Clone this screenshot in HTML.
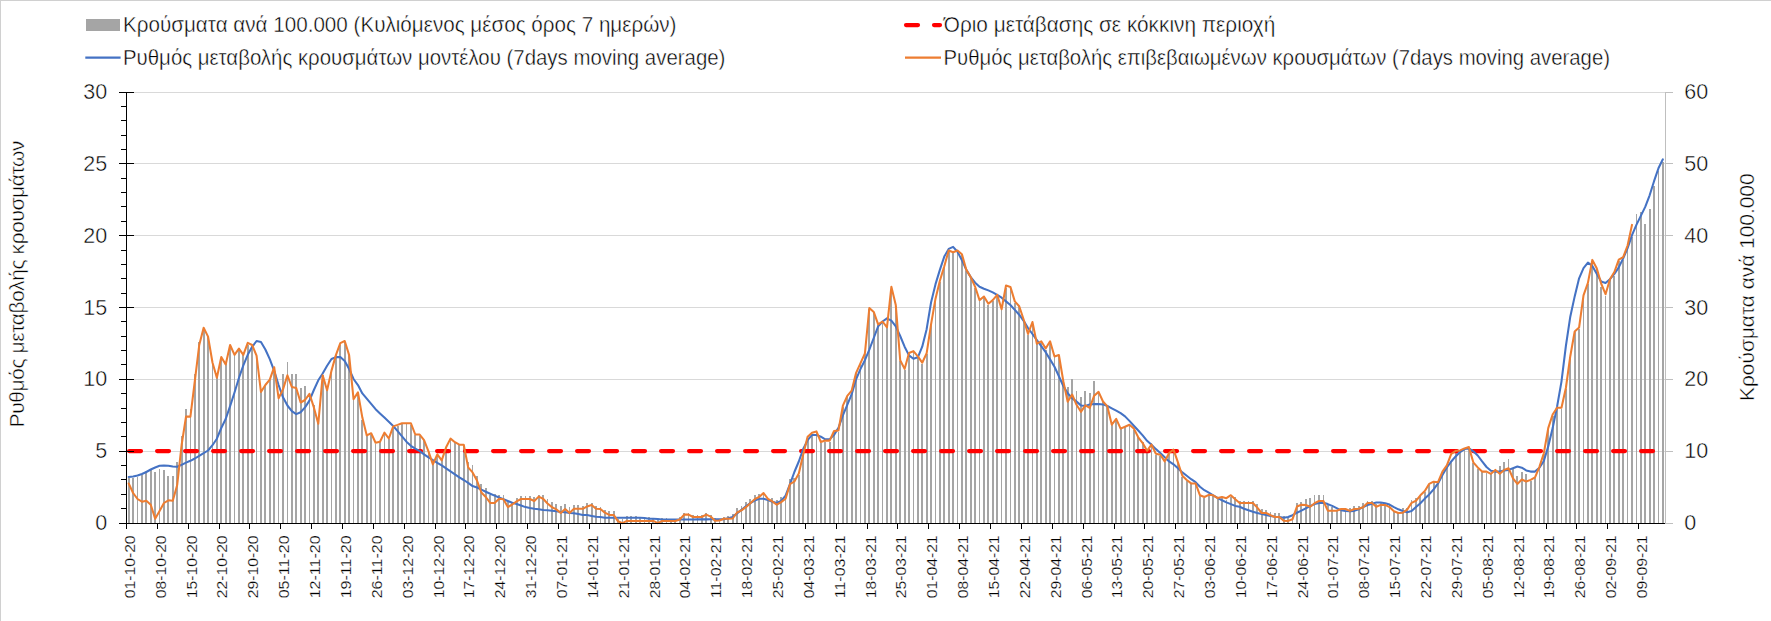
<!DOCTYPE html>
<html><head><meta charset="utf-8"><style>
html,body{margin:0;padding:0;background:#fff;}
body{width:1771px;height:621px;overflow:hidden;position:relative;}
.frame{position:absolute;left:0;top:0;width:1771px;height:621px;box-sizing:border-box;border-top:1px solid #d0d0d0;border-left:1px solid #d0d0d0;}
svg{position:absolute;left:0;top:0;}
text{font-family:"Liberation Sans", sans-serif;fill:#000;stroke:#fff;stroke-width:0.45px;paint-order:fill stroke;}
</style></head><body>
<div class="frame"></div>
<svg width="1771" height="621" viewBox="0 0 1771 621">
<rect x="127" y="451" width="1538" height="1" fill="#d9d9d9"/>
<rect x="127" y="379" width="1538" height="1" fill="#d9d9d9"/>
<rect x="127" y="307" width="1538" height="1" fill="#d9d9d9"/>
<rect x="127" y="235" width="1538" height="1" fill="#d9d9d9"/>
<rect x="127" y="163" width="1538" height="1" fill="#d9d9d9"/>
<rect x="127" y="92" width="1538" height="1" fill="#d9d9d9"/>
<path d="M127.80 477.5h1.8V523h-1.8Z M132.21 478.0h1.8V523h-1.8Z M136.62 476.5h1.8V523h-1.8Z M141.03 475.0h1.8V523h-1.8Z M145.44 471.0h1.8V523h-1.8Z M149.85 469.5h1.8V523h-1.8Z M154.26 472.0h1.8V523h-1.8Z M158.66 469.4h1.8V523h-1.8Z M163.07 470.0h1.8V523h-1.8Z M167.48 476.0h1.8V523h-1.8Z M171.89 476.0h1.8V523h-1.8Z M176.30 462.0h1.8V523h-1.8Z M180.71 436.3h1.8V523h-1.8Z M185.11 409.0h1.8V523h-1.8Z M189.52 409.0h1.8V523h-1.8Z M193.93 374.0h1.8V523h-1.8Z M198.34 342.0h1.8V523h-1.8Z M202.75 331.0h1.8V523h-1.8Z M207.16 336.6h1.8V523h-1.8Z M211.57 360.0h1.8V523h-1.8Z M215.97 375.2h1.8V523h-1.8Z M220.38 358.0h1.8V523h-1.8Z M224.79 363.0h1.8V523h-1.8Z M229.20 347.0h1.8V523h-1.8Z M233.61 354.0h1.8V523h-1.8Z M238.02 350.6h1.8V523h-1.8Z M242.43 354.0h1.8V523h-1.8Z M246.83 345.0h1.8V523h-1.8Z M251.24 345.6h1.8V523h-1.8Z M255.65 356.0h1.8V523h-1.8Z M260.06 391.0h1.8V523h-1.8Z M264.47 386.0h1.8V523h-1.8Z M268.88 380.0h1.8V523h-1.8Z M273.28 371.0h1.8V523h-1.8Z M277.69 395.0h1.8V523h-1.8Z M282.10 373.8h1.8V523h-1.8Z M286.51 362.0h1.8V523h-1.8Z M290.92 374.1h1.8V523h-1.8Z M295.33 374.1h1.8V523h-1.8Z M299.74 388.0h1.8V523h-1.8Z M304.14 386.0h1.8V523h-1.8Z M308.55 393.8h1.8V523h-1.8Z M312.96 405.0h1.8V523h-1.8Z M317.37 422.8h1.8V523h-1.8Z M321.78 375.4h1.8V523h-1.8Z M326.19 390.0h1.8V523h-1.8Z M330.60 370.6h1.8V523h-1.8Z M335.00 355.0h1.8V523h-1.8Z M339.41 344.5h1.8V523h-1.8Z M343.82 341.6h1.8V523h-1.8Z M348.23 355.0h1.8V523h-1.8Z M352.64 400.0h1.8V523h-1.8Z M357.05 393.4h1.8V523h-1.8Z M361.45 419.6h1.8V523h-1.8Z M365.86 436.4h1.8V523h-1.8Z M370.27 435.4h1.8V523h-1.8Z M374.68 443.7h1.8V523h-1.8Z M379.09 440.6h1.8V523h-1.8Z M383.50 432.2h1.8V523h-1.8Z M387.91 438.5h1.8V523h-1.8Z M392.31 427.0h1.8V523h-1.8Z M396.72 426.0h1.8V523h-1.8Z M401.13 423.8h1.8V523h-1.8Z M405.54 423.8h1.8V523h-1.8Z M409.95 425.0h1.8V523h-1.8Z M414.36 435.2h1.8V523h-1.8Z M418.77 435.6h1.8V523h-1.8Z M423.17 440.2h1.8V523h-1.8Z M427.58 450.3h1.8V523h-1.8Z M431.99 460.4h1.8V523h-1.8Z M436.40 455.3h1.8V523h-1.8Z M440.81 458.3h1.8V523h-1.8Z M445.22 451.3h1.8V523h-1.8Z M449.62 440.2h1.8V523h-1.8Z M454.03 443.3h1.8V523h-1.8Z M458.44 445.3h1.8V523h-1.8Z M462.85 445.3h1.8V523h-1.8Z M467.26 462.4h1.8V523h-1.8Z M471.67 464.8h1.8V523h-1.8Z M476.08 476.4h1.8V523h-1.8Z M480.48 484.0h1.8V523h-1.8Z M484.89 488.1h1.8V523h-1.8Z M489.30 494.6h1.8V523h-1.8Z M493.71 494.0h1.8V523h-1.8Z M498.12 495.1h1.8V523h-1.8Z M502.53 495.1h1.8V523h-1.8Z M506.94 501.9h1.8V523h-1.8Z M511.34 503.0h1.8V523h-1.8Z M515.75 498.2h1.8V523h-1.8Z M520.16 496.1h1.8V523h-1.8Z M524.57 496.1h1.8V523h-1.8Z M528.98 496.1h1.8V523h-1.8Z M533.39 497.2h1.8V523h-1.8Z M537.79 495.4h1.8V523h-1.8Z M542.20 495.1h1.8V523h-1.8Z M546.61 499.3h1.8V523h-1.8Z M551.02 501.9h1.8V523h-1.8Z M555.43 504.0h1.8V523h-1.8Z M559.84 506.1h1.8V523h-1.8Z M564.25 504.1h1.8V523h-1.8Z M568.65 507.0h1.8V523h-1.8Z M573.06 505.0h1.8V523h-1.8Z M577.47 505.0h1.8V523h-1.8Z M581.88 506.1h1.8V523h-1.8Z M586.29 503.0h1.8V523h-1.8Z M590.70 503.0h1.8V523h-1.8Z M595.11 506.0h1.8V523h-1.8Z M599.51 507.2h1.8V523h-1.8Z M603.92 510.1h1.8V523h-1.8Z M608.33 511.0h1.8V523h-1.8Z M612.74 511.0h1.8V523h-1.8Z M617.15 519.0h1.8V523h-1.8Z M621.56 519.0h1.8V523h-1.8Z M625.96 515.9h1.8V523h-1.8Z M630.37 516.2h1.8V523h-1.8Z M634.78 515.9h1.8V523h-1.8Z M639.19 518.0h1.8V523h-1.8Z M643.60 518.0h1.8V523h-1.8Z M648.01 517.3h1.8V523h-1.8Z M652.42 519.0h1.8V523h-1.8Z M656.82 519.5h1.8V523h-1.8Z M661.23 518.3h1.8V523h-1.8Z M665.64 518.0h1.8V523h-1.8Z M670.05 519.0h1.8V523h-1.8Z M674.46 519.0h1.8V523h-1.8Z M678.87 517.3h1.8V523h-1.8Z M683.28 513.3h1.8V523h-1.8Z M687.68 513.3h1.8V523h-1.8Z M692.09 515.1h1.8V523h-1.8Z M696.50 515.1h1.8V523h-1.8Z M700.91 515.1h1.8V523h-1.8Z M705.32 513.3h1.8V523h-1.8Z M709.73 515.1h1.8V523h-1.8Z M714.13 518.0h1.8V523h-1.8Z M718.54 519.0h1.8V523h-1.8Z M722.95 517.4h1.8V523h-1.8Z M727.36 516.2h1.8V523h-1.8Z M731.77 514.3h1.8V523h-1.8Z M736.18 508.1h1.8V523h-1.8Z M740.59 506.3h1.8V523h-1.8Z M744.99 502.3h1.8V523h-1.8Z M749.40 499.2h1.8V523h-1.8Z M753.81 495.2h1.8V523h-1.8Z M758.22 494.1h1.8V523h-1.8Z M762.63 494.4h1.8V523h-1.8Z M767.04 499.2h1.8V523h-1.8Z M771.45 498.2h1.8V523h-1.8Z M775.85 500.1h1.8V523h-1.8Z M780.26 497.0h1.8V523h-1.8Z M784.67 499.2h1.8V523h-1.8Z M789.08 478.9h1.8V523h-1.8Z M793.49 477.5h1.8V523h-1.8Z M797.90 474.5h1.8V523h-1.8Z M802.30 455.4h1.8V523h-1.8Z M806.71 437.7h1.8V523h-1.8Z M811.12 433.8h1.8V523h-1.8Z M815.53 432.4h1.8V523h-1.8Z M819.94 443.0h1.8V523h-1.8Z M824.35 441.6h1.8V523h-1.8Z M828.76 441.6h1.8V523h-1.8Z M833.16 432.0h1.8V523h-1.8Z M837.57 431.5h1.8V523h-1.8Z M841.98 406.7h1.8V523h-1.8Z M846.39 396.9h1.8V523h-1.8Z M850.80 391.6h1.8V523h-1.8Z M855.21 373.8h1.8V523h-1.8Z M859.62 364.1h1.8V523h-1.8Z M864.02 354.4h1.8V523h-1.8Z M868.43 309.0h1.8V523h-1.8Z M872.84 312.9h1.8V523h-1.8Z M877.25 325.4h1.8V523h-1.8Z M881.66 322.5h1.8V523h-1.8Z M886.07 328.3h1.8V523h-1.8Z M890.47 290.6h1.8V523h-1.8Z M894.88 306.1h1.8V523h-1.8Z M899.29 361.2h1.8V523h-1.8Z M903.70 369.9h1.8V523h-1.8Z M908.11 354.0h1.8V523h-1.8Z M912.52 352.1h1.8V523h-1.8Z M916.93 357.3h1.8V523h-1.8Z M921.33 363.7h1.8V523h-1.8Z M925.74 354.3h1.8V523h-1.8Z M930.15 325.3h1.8V523h-1.8Z M934.56 299.9h1.8V523h-1.8Z M938.97 281.8h1.8V523h-1.8Z M943.38 267.3h1.8V523h-1.8Z M947.79 251.5h1.8V523h-1.8Z M952.19 253.2h1.8V523h-1.8Z M956.60 251.5h1.8V523h-1.8Z M961.01 255.2h1.8V523h-1.8Z M965.42 270.9h1.8V523h-1.8Z M969.83 278.1h1.8V523h-1.8Z M974.24 287.8h1.8V523h-1.8Z M978.64 301.1h1.8V523h-1.8Z M983.05 297.5h1.8V523h-1.8Z M987.46 304.7h1.8V523h-1.8Z M991.87 301.1h1.8V523h-1.8Z M996.28 295.8h1.8V523h-1.8Z M1000.69 310.2h1.8V523h-1.8Z M1005.10 288.0h1.8V523h-1.8Z M1009.50 287.0h1.8V523h-1.8Z M1013.91 302.6h1.8V523h-1.8Z M1018.32 306.3h1.8V523h-1.8Z M1022.73 320.8h1.8V523h-1.8Z M1027.14 335.3h1.8V523h-1.8Z M1031.55 323.2h1.8V523h-1.8Z M1035.96 342.5h1.8V523h-1.8Z M1040.36 342.5h1.8V523h-1.8Z M1044.77 349.8h1.8V523h-1.8Z M1049.18 342.5h1.8V523h-1.8Z M1053.59 357.0h1.8V523h-1.8Z M1058.00 355.8h1.8V523h-1.8Z M1062.41 381.2h1.8V523h-1.8Z M1066.81 387.2h1.8V523h-1.8Z M1071.22 379.2h1.8V523h-1.8Z M1075.63 390.9h1.8V523h-1.8Z M1080.04 396.7h1.8V523h-1.8Z M1084.45 390.9h1.8V523h-1.8Z M1088.86 392.9h1.8V523h-1.8Z M1093.27 380.9h1.8V523h-1.8Z M1097.67 392.0h1.8V523h-1.8Z M1102.08 401.5h1.8V523h-1.8Z M1106.49 406.4h1.8V523h-1.8Z M1110.90 423.8h1.8V523h-1.8Z M1115.31 419.9h1.8V523h-1.8Z M1119.72 427.6h1.8V523h-1.8Z M1124.13 426.7h1.8V523h-1.8Z M1128.53 425.7h1.8V523h-1.8Z M1132.94 429.6h1.8V523h-1.8Z M1137.35 437.3h1.8V523h-1.8Z M1141.76 442.1h1.8V523h-1.8Z M1146.17 448.9h1.8V523h-1.8Z M1150.58 443.0h1.8V523h-1.8Z M1154.98 454.8h1.8V523h-1.8Z M1159.39 455.7h1.8V523h-1.8Z M1163.80 462.4h1.8V523h-1.8Z M1168.21 454.0h1.8V523h-1.8Z M1172.62 450.6h1.8V523h-1.8Z M1177.03 463.3h1.8V523h-1.8Z M1181.44 476.8h1.8V523h-1.8Z M1185.84 481.0h1.8V523h-1.8Z M1190.25 484.4h1.8V523h-1.8Z M1194.66 484.4h1.8V523h-1.8Z M1199.07 496.3h1.8V523h-1.8Z M1203.48 498.0h1.8V523h-1.8Z M1207.89 495.8h1.8V523h-1.8Z M1212.30 496.3h1.8V523h-1.8Z M1216.70 499.1h1.8V523h-1.8Z M1221.11 498.0h1.8V523h-1.8Z M1225.52 500.0h1.8V523h-1.8Z M1229.93 496.6h1.8V523h-1.8Z M1234.34 497.0h1.8V523h-1.8Z M1238.75 501.2h1.8V523h-1.8Z M1243.15 501.0h1.8V523h-1.8Z M1247.56 501.0h1.8V523h-1.8Z M1251.97 501.0h1.8V523h-1.8Z M1256.38 504.1h1.8V523h-1.8Z M1260.79 509.0h1.8V523h-1.8Z M1265.20 510.0h1.8V523h-1.8Z M1269.61 512.1h1.8V523h-1.8Z M1274.01 513.0h1.8V523h-1.8Z M1278.42 513.0h1.8V523h-1.8Z M1282.83 516.1h1.8V523h-1.8Z M1287.24 517.8h1.8V523h-1.8Z M1291.65 517.0h1.8V523h-1.8Z M1296.06 503.0h1.8V523h-1.8Z M1300.47 502.2h1.8V523h-1.8Z M1304.87 499.1h1.8V523h-1.8Z M1309.28 498.2h1.8V523h-1.8Z M1313.69 495.2h1.8V523h-1.8Z M1318.10 495.2h1.8V523h-1.8Z M1322.51 495.2h1.8V523h-1.8Z M1326.92 504.5h1.8V523h-1.8Z M1331.32 507.2h1.8V523h-1.8Z M1335.73 509.9h1.8V523h-1.8Z M1340.14 509.9h1.8V523h-1.8Z M1344.55 510.5h1.8V523h-1.8Z M1348.96 508.1h1.8V523h-1.8Z M1353.37 506.1h1.8V523h-1.8Z M1357.78 506.1h1.8V523h-1.8Z M1362.18 503.0h1.8V523h-1.8Z M1366.59 501.4h1.8V523h-1.8Z M1371.00 501.2h1.8V523h-1.8Z M1375.41 503.7h1.8V523h-1.8Z M1379.82 502.9h1.8V523h-1.8Z M1384.23 502.5h1.8V523h-1.8Z M1388.64 503.7h1.8V523h-1.8Z M1393.04 511.3h1.8V523h-1.8Z M1397.45 512.0h1.8V523h-1.8Z M1401.86 508.0h1.8V523h-1.8Z M1406.27 508.0h1.8V523h-1.8Z M1410.68 500.3h1.8V523h-1.8Z M1415.09 498.1h1.8V523h-1.8Z M1419.49 496.0h1.8V523h-1.8Z M1423.90 491.5h1.8V523h-1.8Z M1428.31 485.1h1.8V523h-1.8Z M1432.72 483.4h1.8V523h-1.8Z M1437.13 482.5h1.8V523h-1.8Z M1441.54 472.5h1.8V523h-1.8Z M1445.95 466.0h1.8V523h-1.8Z M1450.35 460.6h1.8V523h-1.8Z M1454.76 453.0h1.8V523h-1.8Z M1459.17 450.4h1.8V523h-1.8Z M1463.58 448.8h1.8V523h-1.8Z M1467.99 447.9h1.8V523h-1.8Z M1472.40 463.1h1.8V523h-1.8Z M1476.81 469.0h1.8V523h-1.8Z M1481.21 471.6h1.8V523h-1.8Z M1485.62 472.8h1.8V523h-1.8Z M1490.03 473.8h1.8V523h-1.8Z M1494.44 469.9h1.8V523h-1.8Z M1498.85 466.0h1.8V523h-1.8Z M1503.26 461.9h1.8V523h-1.8Z M1507.66 459.2h1.8V523h-1.8Z M1512.07 469.0h1.8V523h-1.8Z M1516.48 475.8h1.8V523h-1.8Z M1520.89 472.1h1.8V523h-1.8Z M1525.30 474.3h1.8V523h-1.8Z M1529.71 480.9h1.8V523h-1.8Z M1534.12 478.4h1.8V523h-1.8Z M1538.52 467.8h1.8V523h-1.8Z M1542.93 454.2h1.8V523h-1.8Z M1547.34 429.1h1.8V523h-1.8Z M1551.75 415.5h1.8V523h-1.8Z M1556.16 408.7h1.8V523h-1.8Z M1560.57 408.7h1.8V523h-1.8Z M1564.98 389.0h1.8V523h-1.8Z M1569.38 357.2h1.8V523h-1.8Z M1573.79 332.4h1.8V523h-1.8Z M1578.20 328.5h1.8V523h-1.8Z M1582.61 296.3h1.8V523h-1.8Z M1587.02 283.9h1.8V523h-1.8Z M1591.43 260.9h1.8V523h-1.8Z M1595.83 269.2h1.8V523h-1.8Z M1600.24 286.7h1.8V523h-1.8Z M1604.65 295.7h1.8V523h-1.8Z M1609.06 280.2h1.8V523h-1.8Z M1613.47 276.4h1.8V523h-1.8Z M1617.88 261.0h1.8V523h-1.8Z M1622.29 259.7h1.8V523h-1.8Z M1626.69 248.1h1.8V523h-1.8Z M1631.10 236.5h1.8V523h-1.8Z M1635.51 214.1h1.8V523h-1.8Z M1639.92 212.1h1.8V523h-1.8Z M1644.33 223.6h1.8V523h-1.8Z M1648.74 209.0h1.8V523h-1.8Z M1653.15 186.3h1.8V523h-1.8Z M1657.55 170.9h1.8V523h-1.8Z M1661.96 161.9h1.8V523h-1.8Z" fill="#a5a5a5" shape-rendering="crispEdges"/>
<line x1="129.1" y1="451.07" x2="1663" y2="451.07" stroke="#ff0000" stroke-width="4.2" stroke-linecap="round" stroke-dasharray="11.9 16.1" stroke-dashoffset="0"/>
<polyline points="128.70,477.00 133.11,476.50 137.52,475.50 141.93,474.00 146.34,472.00 150.75,469.50 155.16,467.50 159.56,465.80 163.97,465.50 168.38,465.70 172.79,466.50 177.20,466.70 181.61,464.80 186.01,462.60 190.42,460.80 194.83,458.50 199.24,455.80 203.65,453.20 208.06,450.50 212.47,445.20 216.87,438.70 221.28,428.00 225.69,419.00 230.10,406.20 234.51,392.50 238.92,378.00 243.33,365.40 247.73,354.80 252.14,346.80 256.55,341.00 260.96,342.00 265.37,349.50 269.78,359.20 274.18,370.80 278.59,385.00 283.00,397.30 287.41,405.50 291.82,411.20 296.23,414.10 300.64,412.20 305.04,407.40 309.45,400.60 313.86,390.00 318.27,380.30 322.68,373.50 327.09,365.80 331.50,359.00 335.90,357.10 340.31,357.10 344.72,361.00 349.13,369.00 353.54,379.00 357.95,385.10 362.35,393.40 366.76,398.70 371.17,403.90 375.58,409.20 379.99,413.40 384.40,417.60 388.81,421.70 393.21,426.00 397.62,431.20 402.03,436.40 406.44,441.70 410.85,445.80 415.26,448.60 419.67,451.20 424.07,454.30 428.48,457.30 432.89,460.00 437.30,462.80 441.71,465.40 446.12,468.40 450.52,471.40 454.93,474.40 459.34,477.40 463.75,480.00 468.16,482.90 472.57,486.10 476.98,487.50 481.38,489.60 485.79,491.70 490.20,493.70 494.61,495.60 499.02,497.50 503.43,499.30 507.84,501.00 512.24,502.70 516.65,504.00 521.06,505.50 525.47,507.10 529.88,508.00 534.29,508.70 538.69,509.20 543.10,510.00 547.51,510.30 551.92,510.80 556.33,511.30 560.74,511.90 565.15,512.20 569.55,513.00 573.96,513.20 578.37,514.10 582.78,514.90 587.19,515.10 591.60,515.90 596.01,516.80 600.41,517.10 604.82,517.70 609.23,517.70 613.64,517.70 618.05,517.70 622.46,517.70 626.86,517.70 631.27,517.70 635.68,517.70 640.09,517.70 644.50,518.00 648.91,518.80 653.32,518.80 657.72,519.10 662.13,519.50 666.54,519.49 670.95,519.47 675.36,519.46 679.77,519.44 684.18,519.43 688.58,519.41 692.99,519.40 697.40,519.39 701.81,519.37 706.22,519.36 710.63,519.34 715.03,519.33 719.44,519.31 723.85,519.30 728.26,518.30 732.67,516.90 737.08,513.40 741.49,509.90 745.89,506.30 750.30,503.20 754.71,500.60 759.12,498.80 763.53,498.80 767.94,500.10 772.35,501.70 776.75,503.00 781.16,500.80 785.57,495.70 789.98,484.20 794.39,472.00 798.80,461.50 803.20,449.00 807.61,440.20 812.02,434.90 816.43,434.90 820.84,436.70 825.25,439.30 829.66,439.30 834.06,434.90 838.47,427.80 842.88,415.40 847.29,404.80 851.70,394.10 856.11,379.30 860.52,368.90 864.92,360.20 869.33,349.60 873.74,338.00 878.15,326.40 882.56,321.50 886.97,318.30 891.37,320.60 895.78,326.40 900.19,336.00 904.60,346.70 909.01,355.40 913.42,358.80 917.83,357.30 922.23,346.70 926.64,329.20 931.05,302.50 935.46,284.40 939.87,269.90 944.28,256.60 948.69,248.90 953.09,246.90 957.50,251.80 961.91,260.20 966.32,269.90 970.73,277.10 975.14,282.70 979.54,286.80 983.95,288.70 988.36,290.40 992.77,292.40 997.18,294.80 1001.59,297.70 1006.00,301.40 1010.40,305.00 1014.81,309.90 1019.22,314.70 1023.63,320.80 1028.04,328.00 1032.45,334.00 1036.86,340.10 1041.26,346.10 1045.67,352.20 1050.08,359.40 1054.49,366.70 1058.90,376.30 1063.31,386.00 1067.71,393.30 1072.12,398.10 1076.53,401.60 1080.94,405.40 1085.35,406.00 1089.76,404.40 1094.17,404.10 1098.57,404.10 1102.98,404.40 1107.39,406.00 1111.80,408.30 1116.21,410.60 1120.62,413.10 1125.03,416.40 1129.43,420.90 1133.84,425.70 1138.25,430.50 1142.66,435.40 1147.07,440.80 1151.48,444.70 1155.88,449.10 1160.29,453.00 1164.70,457.20 1169.11,461.40 1173.52,464.30 1177.93,468.20 1182.34,472.40 1186.74,475.80 1191.15,479.20 1195.56,482.20 1199.97,486.80 1204.38,490.20 1208.79,492.70 1213.20,495.30 1217.60,497.80 1222.01,500.30 1226.42,502.40 1230.83,504.10 1235.24,505.90 1239.65,506.80 1244.05,508.80 1248.46,510.30 1252.87,511.80 1257.28,513.10 1261.69,514.10 1266.10,515.00 1270.51,515.90 1274.91,516.80 1279.32,517.00 1283.73,517.80 1288.14,517.00 1292.55,515.20 1296.96,512.70 1301.37,510.60 1305.77,508.30 1310.18,506.10 1314.59,504.10 1319.00,503.00 1323.41,502.80 1327.82,504.10 1332.22,505.90 1336.63,508.10 1341.04,510.30 1345.45,510.90 1349.86,511.20 1354.27,510.90 1358.68,509.40 1363.08,507.20 1367.49,505.00 1371.90,503.70 1376.31,502.60 1380.72,502.50 1385.13,503.20 1389.54,504.60 1393.94,507.10 1398.35,509.30 1402.76,511.00 1407.17,512.20 1411.58,511.00 1415.99,507.10 1420.39,503.20 1424.80,498.60 1429.21,494.40 1433.62,489.30 1438.03,483.40 1442.44,475.00 1446.85,467.40 1451.25,461.50 1455.66,456.40 1460.07,452.10 1464.48,449.10 1468.89,448.40 1473.30,451.30 1477.71,455.50 1482.11,461.40 1486.52,467.00 1490.93,470.70 1495.34,471.60 1499.75,471.60 1504.16,470.40 1508.56,469.90 1512.97,468.20 1517.38,466.50 1521.79,467.70 1526.20,470.40 1530.61,471.60 1535.02,471.60 1539.42,467.70 1543.83,461.00 1548.24,446.40 1552.65,428.10 1557.06,406.80 1561.47,381.60 1565.88,346.00 1570.28,316.70 1574.69,296.40 1579.10,278.30 1583.51,268.20 1587.92,262.60 1592.33,265.90 1596.73,273.80 1601.14,281.60 1605.55,283.00 1609.96,279.20 1614.37,273.80 1618.78,267.40 1623.19,258.40 1627.59,248.10 1632.00,235.20 1636.41,224.90 1640.82,215.90 1645.23,206.90 1649.64,195.30 1654.05,181.20 1658.45,168.30 1662.86,159.30" fill="none" stroke="#4472c4" stroke-width="2.05" stroke-linejoin="round" stroke-linecap="round"/>
<polyline points="128.70,483.50 133.11,493.00 137.52,499.00 141.93,501.70 146.34,500.70 150.75,504.70 155.16,518.80 159.56,511.00 163.97,503.00 168.38,500.30 172.79,500.70 177.20,485.00 181.61,445.00 186.01,416.60 190.42,416.60 194.83,381.00 199.24,345.00 203.65,327.70 208.06,336.60 212.47,362.50 216.87,377.70 221.28,357.00 225.69,364.40 230.10,345.00 234.51,354.80 238.92,348.60 243.33,354.80 247.73,342.80 252.14,345.00 256.55,355.70 260.96,392.00 265.37,385.00 269.78,379.60 274.18,367.20 278.59,398.20 283.00,389.40 287.41,375.30 291.82,387.00 296.23,388.00 300.64,402.50 305.04,400.00 309.45,393.80 313.86,407.40 318.27,423.80 322.68,375.40 327.09,390.30 331.50,370.60 335.90,355.10 340.31,343.10 344.72,341.00 349.13,355.10 353.54,399.20 357.95,392.40 362.35,417.60 366.76,435.40 371.17,433.30 375.58,442.70 379.99,441.70 384.40,432.60 388.81,438.50 393.21,426.40 397.62,424.90 402.03,423.20 406.44,423.20 410.85,423.20 415.26,434.50 419.67,434.60 424.07,440.20 428.48,451.30 432.89,464.40 437.30,454.30 441.71,460.40 446.12,447.30 450.52,438.60 454.93,442.20 459.34,444.70 463.75,444.70 468.16,467.40 472.57,472.40 476.98,480.50 481.38,492.50 485.79,497.00 490.20,502.90 494.61,502.90 499.02,498.70 503.43,499.30 507.84,507.10 512.24,504.50 516.65,501.40 521.06,499.00 525.47,499.00 529.88,499.00 534.29,501.00 538.69,496.60 543.10,498.70 547.51,503.50 551.92,507.10 556.33,509.40 560.74,513.00 565.15,509.00 569.55,513.00 573.96,508.80 578.37,508.80 582.78,508.80 587.19,506.40 591.60,505.00 596.01,508.80 600.41,509.00 604.82,512.60 609.23,514.90 613.64,514.90 618.05,521.30 622.46,523.10 626.86,520.90 631.27,520.90 635.68,520.90 640.09,520.90 644.50,520.90 648.91,520.90 653.32,520.90 657.72,523.10 662.13,520.90 666.54,520.90 670.95,520.90 675.36,520.90 679.77,519.50 684.18,514.60 688.58,514.60 692.99,517.00 697.40,517.00 701.81,517.00 706.22,514.60 710.63,516.60 715.03,520.70 719.44,520.50 723.85,518.70 728.26,518.70 732.67,518.50 737.08,512.50 741.49,510.30 745.89,507.20 750.30,503.20 754.71,499.20 759.12,497.00 763.53,493.00 767.94,498.80 772.35,501.40 776.75,504.70 781.16,502.10 785.57,498.80 789.98,484.20 794.39,481.50 798.80,473.50 803.20,454.40 807.61,436.70 812.02,432.80 816.43,431.40 820.84,442.00 825.25,440.60 829.66,440.60 834.06,431.00 838.47,430.50 842.88,405.70 847.29,395.90 851.70,390.60 856.11,372.80 860.52,363.10 864.92,353.40 869.33,308.00 873.74,311.90 878.15,324.40 882.56,321.50 886.97,327.30 891.37,286.80 895.78,305.10 900.19,360.20 904.60,368.90 909.01,353.00 913.42,351.10 917.83,356.30 922.23,362.70 926.64,353.30 931.05,324.30 935.46,298.90 939.87,280.80 944.28,266.30 948.69,250.50 953.09,252.20 957.50,250.50 961.91,254.20 966.32,269.90 970.73,277.10 975.14,286.80 979.54,300.10 983.95,296.50 988.36,303.70 992.77,300.10 997.18,294.80 1001.59,309.20 1006.00,285.50 1010.40,286.90 1014.81,301.40 1019.22,306.30 1023.63,319.50 1028.04,334.00 1032.45,322.00 1036.86,343.70 1041.26,341.30 1045.67,348.50 1050.08,341.30 1054.49,356.50 1058.90,355.00 1063.31,381.20 1067.71,401.70 1072.12,394.50 1076.53,404.80 1080.94,411.80 1085.35,405.40 1089.76,407.90 1094.17,395.70 1098.57,391.90 1102.98,401.50 1107.39,406.40 1111.80,424.70 1116.21,418.90 1120.62,428.60 1125.03,426.70 1129.43,424.70 1133.84,428.60 1138.25,437.30 1142.66,443.10 1147.07,450.80 1151.48,444.60 1155.88,453.80 1160.29,454.70 1164.70,461.40 1169.11,453.00 1173.52,449.60 1177.93,462.30 1182.34,475.80 1186.74,480.00 1191.15,483.40 1195.56,483.40 1199.97,495.30 1204.38,497.00 1208.79,494.80 1213.20,495.30 1217.60,498.10 1222.01,497.00 1226.42,498.20 1230.83,495.20 1235.24,499.20 1239.65,503.00 1244.05,503.00 1248.46,503.00 1252.87,503.00 1257.28,507.60 1261.69,513.00 1266.10,513.00 1270.51,515.20 1274.91,517.00 1279.32,517.00 1283.73,520.70 1288.14,520.90 1292.55,519.20 1296.96,506.50 1301.37,504.80 1305.77,505.00 1310.18,506.80 1314.59,503.20 1319.00,501.00 1323.41,501.00 1327.82,510.70 1332.22,510.70 1336.63,510.70 1341.04,509.00 1345.45,509.00 1349.86,510.90 1354.27,509.00 1358.68,508.80 1363.08,507.20 1367.49,503.00 1371.90,503.00 1376.31,506.70 1380.72,504.90 1385.13,504.90 1389.54,507.10 1393.94,511.30 1398.35,513.00 1402.76,512.70 1407.17,509.60 1411.58,502.90 1415.99,500.80 1420.39,495.30 1424.80,491.00 1429.21,483.90 1433.62,481.70 1438.03,482.20 1442.44,471.60 1446.85,465.30 1451.25,453.80 1455.66,450.80 1460.07,450.40 1464.48,448.40 1468.89,447.10 1473.30,462.30 1477.71,467.40 1482.11,471.60 1486.52,471.60 1490.93,473.80 1495.34,469.90 1499.75,473.80 1504.16,469.90 1508.56,468.20 1512.97,478.40 1517.38,483.90 1521.79,479.50 1526.20,481.50 1530.61,479.90 1535.02,477.40 1539.42,466.80 1543.83,453.20 1548.24,428.10 1552.65,414.50 1557.06,407.70 1561.47,407.70 1565.88,388.00 1570.28,356.20 1574.69,331.40 1579.10,327.50 1583.51,295.30 1587.92,282.90 1592.33,259.90 1596.73,268.20 1601.14,283.50 1605.55,294.20 1609.96,279.20 1614.37,272.00 1618.78,259.70 1623.19,257.10 1627.59,245.50 1632.00,224.90" fill="none" stroke="#ed7d31" stroke-width="2.05" stroke-linejoin="round" stroke-linecap="round"/>
<rect x="126" y="92" width="1" height="432" fill="#000"/>
<rect x="119" y="523" width="15" height="1" fill="#000"/>
<rect x="119" y="451" width="15" height="1" fill="#000"/>
<rect x="119" y="379" width="15" height="1" fill="#000"/>
<rect x="119" y="307" width="15" height="1" fill="#000"/>
<rect x="119" y="235" width="15" height="1" fill="#000"/>
<rect x="119" y="163" width="15" height="1" fill="#000"/>
<rect x="119" y="92" width="15" height="1" fill="#000"/>
<rect x="121" y="508" width="5" height="1" fill="#000"/>
<rect x="121" y="494" width="5" height="1" fill="#000"/>
<rect x="121" y="479" width="5" height="1" fill="#000"/>
<rect x="121" y="465" width="5" height="1" fill="#000"/>
<rect x="121" y="436" width="5" height="1" fill="#000"/>
<rect x="121" y="422" width="5" height="1" fill="#000"/>
<rect x="121" y="408" width="5" height="1" fill="#000"/>
<rect x="121" y="393" width="5" height="1" fill="#000"/>
<rect x="121" y="364" width="5" height="1" fill="#000"/>
<rect x="121" y="350" width="5" height="1" fill="#000"/>
<rect x="121" y="336" width="5" height="1" fill="#000"/>
<rect x="121" y="321" width="5" height="1" fill="#000"/>
<rect x="121" y="293" width="5" height="1" fill="#000"/>
<rect x="121" y="278" width="5" height="1" fill="#000"/>
<rect x="121" y="264" width="5" height="1" fill="#000"/>
<rect x="121" y="250" width="5" height="1" fill="#000"/>
<rect x="121" y="221" width="5" height="1" fill="#000"/>
<rect x="121" y="206" width="5" height="1" fill="#000"/>
<rect x="121" y="192" width="5" height="1" fill="#000"/>
<rect x="121" y="178" width="5" height="1" fill="#000"/>
<rect x="121" y="149" width="5" height="1" fill="#000"/>
<rect x="121" y="135" width="5" height="1" fill="#000"/>
<rect x="121" y="120" width="5" height="1" fill="#000"/>
<rect x="121" y="106" width="5" height="1" fill="#000"/>
<rect x="119" y="523" width="1546" height="1" fill="#000"/>
<rect x="126" y="523" width="1" height="6" fill="#000"/>
<rect x="157" y="523" width="1" height="6" fill="#000"/>
<rect x="188" y="523" width="1" height="6" fill="#000"/>
<rect x="219" y="523" width="1" height="6" fill="#000"/>
<rect x="249" y="523" width="1" height="6" fill="#000"/>
<rect x="280" y="523" width="1" height="6" fill="#000"/>
<rect x="311" y="523" width="1" height="6" fill="#000"/>
<rect x="342" y="523" width="1" height="6" fill="#000"/>
<rect x="373" y="523" width="1" height="6" fill="#000"/>
<rect x="404" y="523" width="1" height="6" fill="#000"/>
<rect x="435" y="523" width="1" height="6" fill="#000"/>
<rect x="465" y="523" width="1" height="6" fill="#000"/>
<rect x="496" y="523" width="1" height="6" fill="#000"/>
<rect x="527" y="523" width="1" height="6" fill="#000"/>
<rect x="558" y="523" width="1" height="6" fill="#000"/>
<rect x="589" y="523" width="1" height="6" fill="#000"/>
<rect x="620" y="523" width="1" height="6" fill="#000"/>
<rect x="651" y="523" width="1" height="6" fill="#000"/>
<rect x="681" y="523" width="1" height="6" fill="#000"/>
<rect x="712" y="523" width="1" height="6" fill="#000"/>
<rect x="743" y="523" width="1" height="6" fill="#000"/>
<rect x="774" y="523" width="1" height="6" fill="#000"/>
<rect x="805" y="523" width="1" height="6" fill="#000"/>
<rect x="836" y="523" width="1" height="6" fill="#000"/>
<rect x="867" y="523" width="1" height="6" fill="#000"/>
<rect x="897" y="523" width="1" height="6" fill="#000"/>
<rect x="928" y="523" width="1" height="6" fill="#000"/>
<rect x="959" y="523" width="1" height="6" fill="#000"/>
<rect x="990" y="523" width="1" height="6" fill="#000"/>
<rect x="1021" y="523" width="1" height="6" fill="#000"/>
<rect x="1052" y="523" width="1" height="6" fill="#000"/>
<rect x="1083" y="523" width="1" height="6" fill="#000"/>
<rect x="1114" y="523" width="1" height="6" fill="#000"/>
<rect x="1144" y="523" width="1" height="6" fill="#000"/>
<rect x="1175" y="523" width="1" height="6" fill="#000"/>
<rect x="1206" y="523" width="1" height="6" fill="#000"/>
<rect x="1237" y="523" width="1" height="6" fill="#000"/>
<rect x="1268" y="523" width="1" height="6" fill="#000"/>
<rect x="1299" y="523" width="1" height="6" fill="#000"/>
<rect x="1330" y="523" width="1" height="6" fill="#000"/>
<rect x="1360" y="523" width="1" height="6" fill="#000"/>
<rect x="1391" y="523" width="1" height="6" fill="#000"/>
<rect x="1422" y="523" width="1" height="6" fill="#000"/>
<rect x="1453" y="523" width="1" height="6" fill="#000"/>
<rect x="1484" y="523" width="1" height="6" fill="#000"/>
<rect x="1515" y="523" width="1" height="6" fill="#000"/>
<rect x="1546" y="523" width="1" height="6" fill="#000"/>
<rect x="1576" y="523" width="1" height="6" fill="#000"/>
<rect x="1607" y="523" width="1" height="6" fill="#000"/>
<rect x="1638" y="523" width="1" height="6" fill="#000"/>
<rect x="1665" y="92" width="1" height="432" fill="#bfbfbf"/>
<rect x="1666" y="523" width="7" height="1" fill="#bfbfbf"/>
<rect x="1666" y="451" width="7" height="1" fill="#bfbfbf"/>
<rect x="1666" y="379" width="7" height="1" fill="#bfbfbf"/>
<rect x="1666" y="307" width="7" height="1" fill="#bfbfbf"/>
<rect x="1666" y="235" width="7" height="1" fill="#bfbfbf"/>
<rect x="1666" y="163" width="7" height="1" fill="#bfbfbf"/>
<rect x="1666" y="92" width="7" height="1" fill="#bfbfbf"/>
<text transform="translate(107.2,530.0)" text-anchor="end" font-size="21.5">0</text>
<text transform="translate(107.2,458.2)" text-anchor="end" font-size="21.5">5</text>
<text transform="translate(107.2,386.3)" text-anchor="end" font-size="21.5">10</text>
<text transform="translate(107.2,314.5)" text-anchor="end" font-size="21.5">15</text>
<text transform="translate(107.2,242.7)" text-anchor="end" font-size="21.5">20</text>
<text transform="translate(107.2,170.8)" text-anchor="end" font-size="21.5">25</text>
<text transform="translate(107.2,99.0)" text-anchor="end" font-size="21.5">30</text>
<text transform="translate(1684.2,530.0)" font-size="21.5">0</text>
<text transform="translate(1684.2,458.2)" font-size="21.5">10</text>
<text transform="translate(1684.2,386.3)" font-size="21.5">20</text>
<text transform="translate(1684.2,314.5)" font-size="21.5">30</text>
<text transform="translate(1684.2,242.7)" font-size="21.5">40</text>
<text transform="translate(1684.2,170.8)" font-size="21.5">50</text>
<text transform="translate(1684.2,99.0)" font-size="21.5">60</text>
<text transform="translate(134.90,535.4) rotate(-90)" text-anchor="end" font-size="15.1" style="stroke-width:0.22px" textLength="62.9" lengthAdjust="spacingAndGlyphs">01-10-20</text>
<text transform="translate(165.76,535.4) rotate(-90)" text-anchor="end" font-size="15.1" style="stroke-width:0.22px" textLength="62.9" lengthAdjust="spacingAndGlyphs">08-10-20</text>
<text transform="translate(196.62,535.4) rotate(-90)" text-anchor="end" font-size="15.1" style="stroke-width:0.22px" textLength="62.9" lengthAdjust="spacingAndGlyphs">15-10-20</text>
<text transform="translate(227.48,535.4) rotate(-90)" text-anchor="end" font-size="15.1" style="stroke-width:0.22px" textLength="62.9" lengthAdjust="spacingAndGlyphs">22-10-20</text>
<text transform="translate(258.34,535.4) rotate(-90)" text-anchor="end" font-size="15.1" style="stroke-width:0.22px" textLength="62.9" lengthAdjust="spacingAndGlyphs">29-10-20</text>
<text transform="translate(289.20,535.4) rotate(-90)" text-anchor="end" font-size="15.1" style="stroke-width:0.22px" textLength="62.9" lengthAdjust="spacingAndGlyphs">05-11-20</text>
<text transform="translate(320.06,535.4) rotate(-90)" text-anchor="end" font-size="15.1" style="stroke-width:0.22px" textLength="62.9" lengthAdjust="spacingAndGlyphs">12-11-20</text>
<text transform="translate(350.92,535.4) rotate(-90)" text-anchor="end" font-size="15.1" style="stroke-width:0.22px" textLength="62.9" lengthAdjust="spacingAndGlyphs">19-11-20</text>
<text transform="translate(381.78,535.4) rotate(-90)" text-anchor="end" font-size="15.1" style="stroke-width:0.22px" textLength="62.9" lengthAdjust="spacingAndGlyphs">26-11-20</text>
<text transform="translate(412.64,535.4) rotate(-90)" text-anchor="end" font-size="15.1" style="stroke-width:0.22px" textLength="62.9" lengthAdjust="spacingAndGlyphs">03-12-20</text>
<text transform="translate(443.50,535.4) rotate(-90)" text-anchor="end" font-size="15.1" style="stroke-width:0.22px" textLength="62.9" lengthAdjust="spacingAndGlyphs">10-12-20</text>
<text transform="translate(474.35,535.4) rotate(-90)" text-anchor="end" font-size="15.1" style="stroke-width:0.22px" textLength="62.9" lengthAdjust="spacingAndGlyphs">17-12-20</text>
<text transform="translate(505.21,535.4) rotate(-90)" text-anchor="end" font-size="15.1" style="stroke-width:0.22px" textLength="62.9" lengthAdjust="spacingAndGlyphs">24-12-20</text>
<text transform="translate(536.07,535.4) rotate(-90)" text-anchor="end" font-size="15.1" style="stroke-width:0.22px" textLength="62.9" lengthAdjust="spacingAndGlyphs">31-12-20</text>
<text transform="translate(566.93,535.4) rotate(-90)" text-anchor="end" font-size="15.1" style="stroke-width:0.22px" textLength="62.9" lengthAdjust="spacingAndGlyphs">07-01-21</text>
<text transform="translate(597.79,535.4) rotate(-90)" text-anchor="end" font-size="15.1" style="stroke-width:0.22px" textLength="62.9" lengthAdjust="spacingAndGlyphs">14-01-21</text>
<text transform="translate(628.65,535.4) rotate(-90)" text-anchor="end" font-size="15.1" style="stroke-width:0.22px" textLength="62.9" lengthAdjust="spacingAndGlyphs">21-01-21</text>
<text transform="translate(659.51,535.4) rotate(-90)" text-anchor="end" font-size="15.1" style="stroke-width:0.22px" textLength="62.9" lengthAdjust="spacingAndGlyphs">28-01-21</text>
<text transform="translate(690.37,535.4) rotate(-90)" text-anchor="end" font-size="15.1" style="stroke-width:0.22px" textLength="62.9" lengthAdjust="spacingAndGlyphs">04-02-21</text>
<text transform="translate(721.23,535.4) rotate(-90)" text-anchor="end" font-size="15.1" style="stroke-width:0.22px" textLength="62.9" lengthAdjust="spacingAndGlyphs">11-02-21</text>
<text transform="translate(752.09,535.4) rotate(-90)" text-anchor="end" font-size="15.1" style="stroke-width:0.22px" textLength="62.9" lengthAdjust="spacingAndGlyphs">18-02-21</text>
<text transform="translate(782.95,535.4) rotate(-90)" text-anchor="end" font-size="15.1" style="stroke-width:0.22px" textLength="62.9" lengthAdjust="spacingAndGlyphs">25-02-21</text>
<text transform="translate(813.81,535.4) rotate(-90)" text-anchor="end" font-size="15.1" style="stroke-width:0.22px" textLength="62.9" lengthAdjust="spacingAndGlyphs">04-03-21</text>
<text transform="translate(844.67,535.4) rotate(-90)" text-anchor="end" font-size="15.1" style="stroke-width:0.22px" textLength="62.9" lengthAdjust="spacingAndGlyphs">11-03-21</text>
<text transform="translate(875.53,535.4) rotate(-90)" text-anchor="end" font-size="15.1" style="stroke-width:0.22px" textLength="62.9" lengthAdjust="spacingAndGlyphs">18-03-21</text>
<text transform="translate(906.39,535.4) rotate(-90)" text-anchor="end" font-size="15.1" style="stroke-width:0.22px" textLength="62.9" lengthAdjust="spacingAndGlyphs">25-03-21</text>
<text transform="translate(937.25,535.4) rotate(-90)" text-anchor="end" font-size="15.1" style="stroke-width:0.22px" textLength="62.9" lengthAdjust="spacingAndGlyphs">01-04-21</text>
<text transform="translate(968.11,535.4) rotate(-90)" text-anchor="end" font-size="15.1" style="stroke-width:0.22px" textLength="62.9" lengthAdjust="spacingAndGlyphs">08-04-21</text>
<text transform="translate(998.97,535.4) rotate(-90)" text-anchor="end" font-size="15.1" style="stroke-width:0.22px" textLength="62.9" lengthAdjust="spacingAndGlyphs">15-04-21</text>
<text transform="translate(1029.83,535.4) rotate(-90)" text-anchor="end" font-size="15.1" style="stroke-width:0.22px" textLength="62.9" lengthAdjust="spacingAndGlyphs">22-04-21</text>
<text transform="translate(1060.68,535.4) rotate(-90)" text-anchor="end" font-size="15.1" style="stroke-width:0.22px" textLength="62.9" lengthAdjust="spacingAndGlyphs">29-04-21</text>
<text transform="translate(1091.54,535.4) rotate(-90)" text-anchor="end" font-size="15.1" style="stroke-width:0.22px" textLength="62.9" lengthAdjust="spacingAndGlyphs">06-05-21</text>
<text transform="translate(1122.40,535.4) rotate(-90)" text-anchor="end" font-size="15.1" style="stroke-width:0.22px" textLength="62.9" lengthAdjust="spacingAndGlyphs">13-05-21</text>
<text transform="translate(1153.26,535.4) rotate(-90)" text-anchor="end" font-size="15.1" style="stroke-width:0.22px" textLength="62.9" lengthAdjust="spacingAndGlyphs">20-05-21</text>
<text transform="translate(1184.12,535.4) rotate(-90)" text-anchor="end" font-size="15.1" style="stroke-width:0.22px" textLength="62.9" lengthAdjust="spacingAndGlyphs">27-05-21</text>
<text transform="translate(1214.98,535.4) rotate(-90)" text-anchor="end" font-size="15.1" style="stroke-width:0.22px" textLength="62.9" lengthAdjust="spacingAndGlyphs">03-06-21</text>
<text transform="translate(1245.84,535.4) rotate(-90)" text-anchor="end" font-size="15.1" style="stroke-width:0.22px" textLength="62.9" lengthAdjust="spacingAndGlyphs">10-06-21</text>
<text transform="translate(1276.70,535.4) rotate(-90)" text-anchor="end" font-size="15.1" style="stroke-width:0.22px" textLength="62.9" lengthAdjust="spacingAndGlyphs">17-06-21</text>
<text transform="translate(1307.56,535.4) rotate(-90)" text-anchor="end" font-size="15.1" style="stroke-width:0.22px" textLength="62.9" lengthAdjust="spacingAndGlyphs">24-06-21</text>
<text transform="translate(1338.42,535.4) rotate(-90)" text-anchor="end" font-size="15.1" style="stroke-width:0.22px" textLength="62.9" lengthAdjust="spacingAndGlyphs">01-07-21</text>
<text transform="translate(1369.28,535.4) rotate(-90)" text-anchor="end" font-size="15.1" style="stroke-width:0.22px" textLength="62.9" lengthAdjust="spacingAndGlyphs">08-07-21</text>
<text transform="translate(1400.14,535.4) rotate(-90)" text-anchor="end" font-size="15.1" style="stroke-width:0.22px" textLength="62.9" lengthAdjust="spacingAndGlyphs">15-07-21</text>
<text transform="translate(1431.00,535.4) rotate(-90)" text-anchor="end" font-size="15.1" style="stroke-width:0.22px" textLength="62.9" lengthAdjust="spacingAndGlyphs">22-07-21</text>
<text transform="translate(1461.86,535.4) rotate(-90)" text-anchor="end" font-size="15.1" style="stroke-width:0.22px" textLength="62.9" lengthAdjust="spacingAndGlyphs">29-07-21</text>
<text transform="translate(1492.72,535.4) rotate(-90)" text-anchor="end" font-size="15.1" style="stroke-width:0.22px" textLength="62.9" lengthAdjust="spacingAndGlyphs">05-08-21</text>
<text transform="translate(1523.58,535.4) rotate(-90)" text-anchor="end" font-size="15.1" style="stroke-width:0.22px" textLength="62.9" lengthAdjust="spacingAndGlyphs">12-08-21</text>
<text transform="translate(1554.44,535.4) rotate(-90)" text-anchor="end" font-size="15.1" style="stroke-width:0.22px" textLength="62.9" lengthAdjust="spacingAndGlyphs">19-08-21</text>
<text transform="translate(1585.30,535.4) rotate(-90)" text-anchor="end" font-size="15.1" style="stroke-width:0.22px" textLength="62.9" lengthAdjust="spacingAndGlyphs">26-08-21</text>
<text transform="translate(1616.16,535.4) rotate(-90)" text-anchor="end" font-size="15.1" style="stroke-width:0.22px" textLength="62.9" lengthAdjust="spacingAndGlyphs">02-09-21</text>
<text transform="translate(1647.02,535.4) rotate(-90)" text-anchor="end" font-size="15.1" style="stroke-width:0.22px" textLength="62.9" lengthAdjust="spacingAndGlyphs">09-09-21</text>
<text transform="translate(24.4,427.4) rotate(-90)" font-size="21" textLength="287" lengthAdjust="spacing">Ρυθμός μεταβολής κρουσμάτων</text>
<text transform="translate(1754,401) rotate(-90)" font-size="21" textLength="227.7" lengthAdjust="spacing">Κρούσματα ανά 100.000</text>
<rect x="86" y="19" width="34" height="12" fill="#a5a5a5"/>
<text x="123" y="31.7" font-size="22" textLength="553.5" lengthAdjust="spacingAndGlyphs">Κρούσματα ανά 100.000 (Κυλιόμενος μέσος όρος 7 ημερών)</text>
<line x1="85.3" y1="57.6" x2="120.6" y2="57.6" stroke="#4472c4" stroke-width="2.25"/>
<text x="123" y="64.6" font-size="22" textLength="602.4" lengthAdjust="spacingAndGlyphs">Ρυθμός μεταβολής κρουσμάτων μοντέλου (7days moving average)</text>
<line x1="906" y1="25.1" x2="918" y2="25.1" stroke="#ff0000" stroke-width="4.2" stroke-linecap="round"/>
<line x1="934" y1="25.1" x2="940" y2="25.1" stroke="#ff0000" stroke-width="4.2" stroke-linecap="round"/>
<text x="943.8" y="31.7" font-size="22" textLength="331.5" lengthAdjust="spacingAndGlyphs">Όριο μετάβασης σε κόκκινη περιοχή</text>
<line x1="905" y1="57.6" x2="941" y2="57.6" stroke="#ed7d31" stroke-width="2.25"/>
<text x="943.5" y="64.6" font-size="22" textLength="666.5" lengthAdjust="spacingAndGlyphs">Ρυθμός μεταβολής επιβεβαιωμένων κρουσμάτων (7days moving average)</text>
</svg>
</body></html>
